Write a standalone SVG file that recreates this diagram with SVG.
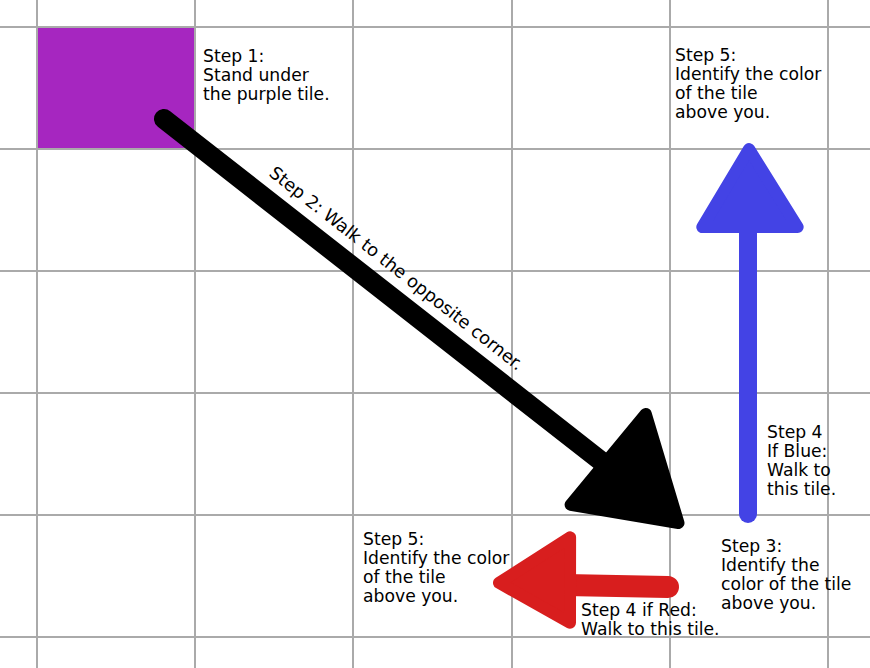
<svg xmlns="http://www.w3.org/2000/svg" width="870" height="668" viewBox="0 0 870 668">
  <style>
    .grid line { stroke: #aaaaaa; stroke-width: 2; }
    .lbl { font-family: "DejaVu Sans", "Liberation Sans", sans-serif; font-size: 17.2px; fill: #000; }
    .stem { fill: none; stroke-linecap: round; }
    .head { stroke-linejoin: round; stroke-width: 12; }
  </style>
  <rect width="870" height="668" fill="#ffffff"/>
  <g id="purple-tile">
    <rect x="38" y="28" width="156" height="120" fill="#a626c0"/>
  </g>
  <g class="grid" id="grid">
    <line x1="37" y1="0" x2="37" y2="668"/>
    <line x1="195" y1="0" x2="195" y2="668"/>
    <line x1="353" y1="0" x2="353" y2="668"/>
    <line x1="512" y1="0" x2="512" y2="668"/>
    <line x1="670" y1="0" x2="670" y2="668"/>
    <line x1="828" y1="0" x2="828" y2="668"/>
    <line x1="0" y1="27" x2="870" y2="27"/>
    <line x1="0" y1="149" x2="870" y2="149"/>
    <line x1="0" y1="271" x2="870" y2="271"/>
    <line x1="0" y1="393" x2="870" y2="393"/>
    <line x1="0" y1="515" x2="870" y2="515"/>
    <line x1="0" y1="637" x2="870" y2="637"/>
  </g>
  <g id="connectors">
    <g id="arrow-black">
      <line class="stem" x1="164" y1="119" x2="615" y2="472" stroke="#000" stroke-width="20"/>
      <polygon class="head" points="645.8,413.9 678.5,523 570.6,504.8" fill="#000" stroke="#000"/>
    </g>
    <g id="arrow-blue">
      <line class="stem" x1="748" y1="514" x2="748" y2="225" stroke="#4343e5" stroke-width="18"/>
      <polygon class="head" points="749,149 702.3,227.1 797.7,227.1" fill="#4343e5" stroke="#4343e5"/>
    </g>
    <g id="arrow-red">
      <line class="stem" x1="668" y1="587" x2="565" y2="585" stroke="#d81e1e" stroke-width="22"/>
      <polygon class="head" points="499,582.8 570.1,537.3 570,622.8" fill="#d81e1e" stroke="#d81e1e"/>
    </g>
  </g>
  <g id="step1">
    <text class="lbl" x="203" y="62">Step 1:</text>
    <text class="lbl" x="203" y="81">Stand under</text>
    <text class="lbl" x="203" y="100">the purple tile.</text>
  </g>
  <g id="step2">
    <text class="lbl" style="font-size:17.7px" transform="translate(268,175) rotate(38.2)">Step 2: Walk to the opposite corner.</text>
  </g>
  <g id="step5-top">
    <text class="lbl" x="675" y="61">Step 5:</text>
    <text class="lbl" x="675" y="80">Identify the color</text>
    <text class="lbl" x="675" y="99">of the tile</text>
    <text class="lbl" x="675" y="118">above you.</text>
  </g>
  <g id="step4-blue">
    <text class="lbl" x="767" y="438">Step 4</text>
    <text class="lbl" x="767" y="457">If Blue:</text>
    <text class="lbl" x="767" y="476">Walk to</text>
    <text class="lbl" x="767" y="495">this tile.</text>
  </g>
  <g id="step3">
    <text class="lbl" x="721" y="552">Step 3:</text>
    <text class="lbl" x="721" y="571">Identify the</text>
    <text class="lbl" x="721" y="590">color of the tile</text>
    <text class="lbl" x="721" y="609">above you.</text>
  </g>
  <g id="step5-bottom">
    <text class="lbl" x="363" y="545">Step 5:</text>
    <text class="lbl" x="363" y="564">Identify the color</text>
    <text class="lbl" x="363" y="583">of the tile</text>
    <text class="lbl" x="363" y="602">above you.</text>
  </g>
  <g id="step4-red">
    <text class="lbl" x="581" y="616">Step 4 if Red:</text>
    <text class="lbl" x="581" y="635">Walk to this tile.</text>
  </g>
</svg>
